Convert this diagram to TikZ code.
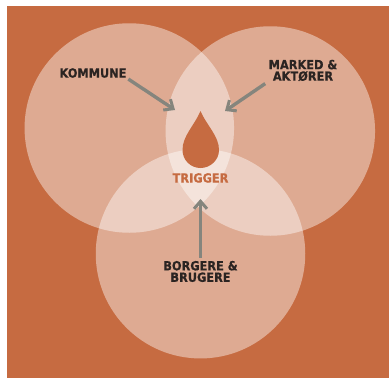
\documentclass[tikz,border=0pt]{standalone}
\usepackage{fontspec}
\setmainfont{DejaVu Sans}
\newfontfamily\actorfont[FakeStretch=.9,FakeBold=.5]{DejaVu Sans Bold}
\usepackage{tikz}
\usetikzlibrary{arrows.meta,positioning}
\definecolor{rust}{HTML}{C66B41}
\definecolor{ink}{HTML}{2B2422}
\definecolor{pointer}{HTML}{85857D}
\tikzset{
  venn/.style={circle,fill=white,fill opacity=.43,minimum size=209.5pt,inner sep=0pt},
  actor/.style={text=ink,font=\actorfont\fontsize{12.6}{11.5}\selectfont,align=center,inner sep=0pt},
  pointing/.style={draw=pointer,line width=3.4pt,-{Straight Barb[length=7.5pt,width=13pt,line width=3pt]}}
}

\begin{document}
\begin{tikzpicture}[x=1pt,y=-1pt]
   \useasboundingbox (0,0) rectangle (389,378);
   \fill[rust] (7,6) rectangle (389,378);
   \node[venn] (kom) at (129.3,128) {};
   \node[venn] (mar) at (270.3,131) {};
   \node[venn] (bor) at (200.5,253.7) {};
   \fill[rust] (200.5,111) .. controls (194,126) and (182.5,136) .. (182.5,150)
      .. controls (182.5,160) and (190.5,168) .. (200.5,168)
      .. controls (210.5,168) and (219,160) .. (219,150)
      .. controls (219,136) and (207,126) .. (200.5,111) -- cycle;
   \coordinate (drop) at (200.5,168);
   \node[actor,text=rust,below=5pt of drop] (trigger) {TRIGGER};
   \node[actor] (kommune) at (93,73) {KOMMUNE};
   \node[actor] (marked) at (303,70.5) {MARKED \&\\AKTØRER};
   \node[actor] (borgere) at (200.5,271.5) {BORGERE \&\\BRUGERE};
   \coordinate (kompoint) at (175,110);
   \coordinate (marpoint) at (225,111);
   \coordinate (borpoint) at (200.5,199);
   \draw[pointing,shorten <=2pt] (kommune.south east) -- (kompoint);
   \draw[pointing,shorten <=4pt] (marked.south west) -- (marpoint);
   \draw[pointing,shorten <=3pt] (borgere.north) -- (borpoint);
\end{tikzpicture}
\end{document}
